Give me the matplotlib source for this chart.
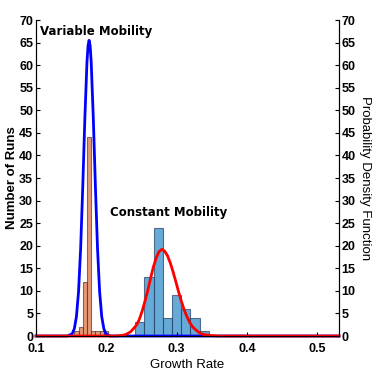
import matplotlib
matplotlib.use("Agg")
import matplotlib.pyplot as plt

# histogram of growth rates, variable mobility (orange)
var_edges = [0.1545, 0.1605, 0.1665, 0.1725, 0.1785, 0.1845, 0.1905, 0.1965]
var_counts = [1, 2, 12, 44, 1, 1, 1, 1]
var_width = 0.006

# histogram of growth rates, constant mobility (blue)
const_edges = [0.241, 0.2541, 0.2672, 0.2803, 0.2934, 0.3065, 0.3196, 0.3327]
const_counts = [3, 13, 24, 4, 9, 6, 4, 1]
const_width = 0.0131

# fitted density curves
var_pdf_x = [0.10, 0.145, 0.1515, 0.1545, 0.1575, 0.1605, 0.1635, 0.1665, 0.1695,
             0.1725, 0.174, 0.1755, 0.177, 0.1785, 0.1815, 0.1845, 0.1875, 0.1905,
             0.1935, 0.1965, 0.1995, 0.205, 0.531]
var_pdf_y = [0, 0, 0.5, 1.6, 4.3, 9.8, 19.4, 33.1, 48.3,
             60.7, 64.3, 65.5, 64.3, 60.7, 48.3, 33.1, 19.4, 9.8,
             4.3, 1.6, 0.5, 0, 0]

const_pdf_x = [0.10, 0.214, 0.219, 0.223, 0.227, 0.231, 0.235, 0.239, 0.243, 0.247,
               0.251, 0.255, 0.259, 0.263, 0.267, 0.271, 0.275, 0.279, 0.283, 0.287,
               0.291, 0.295, 0.299, 0.303, 0.307, 0.311, 0.315, 0.319, 0.323, 0.327,
               0.331, 0.335, 0.340, 0.346, 0.352, 0.360, 0.531]
const_pdf_y = [0, 0, 0.07, 0.15, 0.3, 0.6, 1.0, 1.7, 2.4, 3.7,
               5.5, 7.7, 10.1, 12.8, 15.3, 17.3, 18.7, 19.2, 18.8, 17.8,
               16.2, 14.2, 12.0, 9.7, 7.6, 5.7, 4.2, 2.9, 2.0, 1.4,
               0.9, 0.5, 0.3, 0.15, 0.06, 0, 0]

xticks = [0.1, 0.2, 0.3, 0.4, 0.5]
yticks = list(range(0, 75, 5))

plt.rcParams['font.family'] = ['Liberation Sans', 'DejaVu Sans']

fig = plt.figure(figsize=(3.74, 3.74), dpi=100)
ax = fig.add_axes([0.0963, 0.1016, 0.8100, 0.8449])
ax2 = ax.twinx()

ax.bar(var_edges, var_counts, width=var_width, align='edge',
       color='#E89875', edgecolor=(0.25, 0.1, 0.05, 0.6), linewidth=0.8)
ax.bar(const_edges, const_counts, width=const_width, align='edge',
       color='#66AAD7', edgecolor=(0.05, 0.15, 0.3, 0.6), linewidth=0.8)

ax2.plot(var_pdf_x, var_pdf_y, color='#0000FF', lw=2, clip_on=False)
ax2.plot(const_pdf_x, const_pdf_y, color='#FF0000', lw=2, clip_on=False)

for a in (ax, ax2):
    a.set_xlim(0.1, 0.531)
    a.set_ylim(0, 70)
    a.spines['top'].set_visible(False)
    a.set_yticks(yticks)
    a.tick_params(direction='in', length=3, width=0.8, labelsize=9)
    for lab in a.get_yticklabels():
        lab.set_fontweight('bold')

ax.set_xticks(xticks)
ax.set_xticklabels([f"{t:.1f}" for t in xticks], fontweight='bold')
ax.tick_params(axis='x', pad=5)
ax.tick_params(axis='y', pad=2)
ax2.tick_params(axis='y', pad=2)

ax.set_xlabel('Growth Rate', fontsize=9.5, labelpad=3)
ax.set_ylabel('Number of Runs', fontsize=9.5, fontweight='bold', labelpad=1)
ax2.set_ylabel('Probability Density Function', fontsize=9.5, rotation=270, labelpad=11)

ax.text(0.106, 67.4, 'Variable Mobility', fontsize=8.5, fontweight='bold',
        family='DejaVu Sans', ha='left', va='center', zorder=5)
ax.text(0.2054, 27.3, 'Constant Mobility', fontsize=8.5, fontweight='bold',
        family='DejaVu Sans', ha='left', va='center', zorder=5)

fig.savefig('out.png', dpi=100)
